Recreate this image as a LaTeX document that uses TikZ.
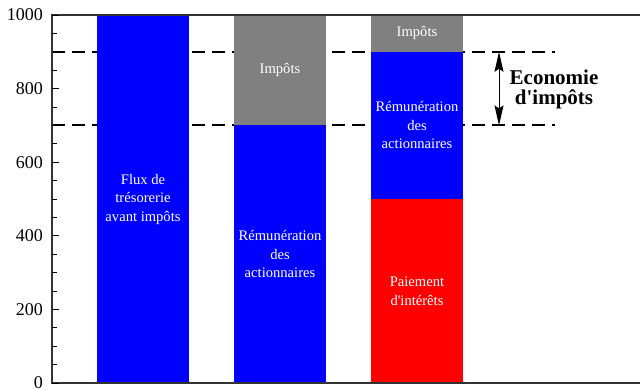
\documentclass[tikz,border=0pt]{standalone}
\usepackage{fontspec}
\setmainfont{Liberation Serif}
\usetikzlibrary{arrows.meta}
\begin{document}
\begin{tikzpicture}[x=1pt,y=-1pt,
  barlabel/.style={text=white,font=\fontsize{14.6}{18.5}\selectfont,align=center,inner sep=0pt},
  ticklabel/.style={font=\fontsize{18}{20}\selectfont,anchor=east,inner sep=0pt},
  guide/.style={line width=2pt,dash pattern=on 13pt off 7pt},
  frameline/.style={line width=1.5pt,black!80},
  blue bar/.style={fill={rgb,255:red,0;green,0;blue,255}},
  red bar/.style={fill={rgb,255:red,255;green,0;blue,0}},
  gray bar/.style={fill={rgb,255:red,128;green,128;blue,128}},
]
\useasboundingbox (0,0) rectangle (640,390);
% guide lines at 900 and 700
\draw[guide] (52,51.8) -- (555,51.8);
\draw[guide] (52,125.4) -- (555,125.4);
% bars
\fill[blue bar] (97,15) rectangle (189,383);
\fill[blue bar] (234,125.4) rectangle (326,383);
\fill[gray bar] (234,15) rectangle (326,125.4);
\fill[red bar] (371,199) rectangle (463,383);
\fill[blue bar] (371,51.8) rectangle (463,199);
\fill[gray bar] (371,15) rectangle (463,51.8);
% bar labels
\node[barlabel] (l1) at (143,199) {Flux de\\trésorerie\\avant impôts};
\node[barlabel] (l2a) at (280,254.2) {Rémunération\\des\\actionnaires};
\node[barlabel] (l2b) at (280,70.2) {Impôts};
\node[barlabel] (l3a) at (417,291) {Paiement\\d\textquotesingle intérêts};
\node[barlabel] (l3b) at (417,125.4) {Rémunération\\des\\actionnaires};
\node[barlabel] (l3c) at (417,33.4) {Impôts};
% frame
\draw[frameline] (640,15) -- (52,15) -- (52,383) -- (640,383);
% ticks
\foreach \v in {0,200,...,1000} {
  \draw[line width=1pt] (52,{383-0.368*\v}) -- (59,{383-0.368*\v});
  \node[ticklabel] (t\v) at (43,{383-0.368*\v}) {\v};
}
\foreach \v in {50,100,150,250,300,350,450,500,550,650,750,800,850,950} {
  \draw[line width=1pt] (52,{383-0.368*\v}) -- (56.5,{383-0.368*\v});
}
% economy arrow
\coordinate (aTop) at (499,51.8);
\coordinate (aBot) at (499,125.4);
\draw[line width=1pt,{Stealth[length=20pt,width=9pt,inset=3pt]}-{Stealth[length=20pt,width=9pt,inset=3pt]}] (aTop) -- (aBot);
\node[font=\bfseries\fontsize{21}{20}\selectfont,align=center,inner sep=0pt] (eco) at (554,89) {Economie\\d\textquotesingle impôts};
\end{tikzpicture}
\end{document}
